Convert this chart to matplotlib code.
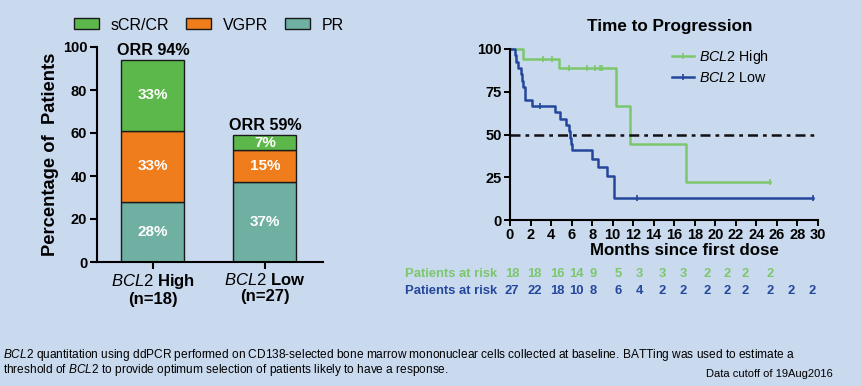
import matplotlib
matplotlib.use("Agg")
import matplotlib.pyplot as plt
import matplotlib.transforms as mtransforms
from matplotlib.patches import Patch
from matplotlib.lines import Line2D

plt.rcParams['font.family'] = ['Liberation Sans', 'DejaVu Sans']
plt.rcParams['mathtext.fontset'] = 'custom'
plt.rcParams['mathtext.it'] = 'Liberation Sans:italic'
plt.rcParams['mathtext.rm'] = 'Liberation Sans'
plt.rcParams['mathtext.bf'] = 'Liberation Sans:bold'

# ---------------- data ----------------
groups = [r"$\it{BCL2}$ High" + "\n(n=18)", r"$\it{BCL2}$ Low" + "\n(n=27)"]
pr = [28, 37]
vgpr = [33, 15]
cr = [33, 7]
orr_labels = ["ORR 94%", "ORR 59%"]

high_t = [0, 1.3, 4.8, 10.3, 11.7, 17.1, 25.3]
high_s = [100, 94.4, 88.9, 66.7, 44.4, 22.2, 22.2]
high_cens_t = [3.2, 4.1, 5.7, 7.5, 8.3, 8.8, 9.0, 25.3]
high_cens_s = [94.4, 94.4, 88.9, 88.9, 88.9, 88.9, 88.9, 22.2]

low_t = [0, 0.5, 0.6, 0.8, 1.1, 1.2, 1.3, 1.45, 2.1, 4.4, 4.9, 5.5, 5.7, 5.8, 5.9, 6.0, 7.95, 8.6, 9.4, 10.15, 29.5]
low_s = [100, 96.3, 92.6, 88.9, 85.2, 81.5, 77.8, 70.4, 66.7, 63.0, 59.3, 55.6, 51.9, 48.1, 44.4, 40.7, 35.8, 30.9, 26.0, 12.9, 12.9]
low_cens_t = [2.9, 12.4, 29.5]
low_cens_s = [66.7, 12.9, 12.9]

risk_high = [18, 18, 16, 14, 9, 5, 3, 3, 3, 2, 2, 2, 2]
risk_low = [27, 22, 18, 10, 8, 6, 4, 2, 2, 2, 2, 2, 2, 2, 2]
risk_pos = [0.2, 2.4, 4.6, 6.5, 8.1, 10.5, 12.6, 14.8, 16.9, 19.2, 21.1, 22.9, 25.3, 27.4, 29.4]

c_cr = '#5cb84a'
c_vgpr = '#ef7d1b'
c_pr = '#6fb0a2'
c_high = '#7cc76c'
c_low = '#24479b'
bg = '#c9d9ee'

W, H = 861, 386
fig = plt.figure(figsize=(W / 100, H / 100), dpi=100, facecolor=bg)

def fx(px):
    return px / W

def fy(py):
    return 1 - py / H

# ---------------- left stacked bar ----------------
ax1 = fig.add_axes([fx(97), fy(262), fx(323 - 97), (262 - 47) / H])
ax1.set_facecolor('none')
x = [0, 1]
bw = 0.5625
ax1.bar(x, pr, bw, color=c_pr, edgecolor='#1a1a1a', linewidth=1.0)
bot2 = [a for a in pr]
ax1.bar(x, vgpr, bw, bottom=bot2, color=c_vgpr, edgecolor='#1a1a1a', linewidth=1.0)
bot3 = [a + b for a, b in zip(pr, vgpr)]
ax1.bar(x, cr, bw, bottom=bot3, color=c_cr, edgecolor='#1a1a1a', linewidth=1.0)
ax1.set_xlim(-0.5, 1.518)
ax1.set_ylim(0, 100)
for i in range(2):
    ax1.text(x[i], pr[i] / 2, f"{pr[i]}%", ha='center', va='center', color='white',
             fontsize=11, fontweight='bold')
    ax1.text(x[i], pr[i] + vgpr[i] / 2, f"{vgpr[i]}%", ha='center', va='center', color='white',
             fontsize=11, fontweight='bold')
    ax1.text(x[i], bot3[i] + cr[i] / 2, f"{cr[i]}%", ha='center', va='center', color='white',
             fontsize=11, fontweight='bold')
    ax1.text(x[i], bot3[i] + cr[i] + 0.8, orr_labels[i], ha='center', va='bottom',
             fontsize=11.6, fontweight='bold', clip_on=False)
ax1.set_xticks(x)
ax1.set_xticklabels(groups, fontsize=12, fontweight='bold', linespacing=1.1)
ax1.set_yticks([0, 20, 40, 60, 80, 100])
ax1.tick_params(axis='y', labelsize=10.5, width=1.5, length=5, pad=2)
for lab in ax1.get_yticklabels():
    lab.set_fontweight('bold')
ax1.tick_params(axis='x', width=1.5, length=5, pad=2)
for s in ['top', 'right']:
    ax1.spines[s].set_visible(False)
for s in ['left', 'bottom']:
    ax1.spines[s].set_linewidth(1.5)
ax1.set_ylabel("Percentage of  Patients", fontsize=13.2, fontweight='bold', labelpad=3)

handles = [Patch(facecolor=c_cr, edgecolor='#1a1a1a', label='sCR/CR'),
           Patch(facecolor=c_vgpr, edgecolor='#1a1a1a', label='VGPR'),
           Patch(facecolor=c_pr, edgecolor='#1a1a1a', label='PR')]
fig.legend(handles=handles, loc='center', bbox_to_anchor=(fx(209), fy(25)), ncol=3,
           frameon=False, fontsize=11.5, handlelength=1.56, handleheight=0.69,
           columnspacing=1.05, handletextpad=0.75, borderpad=0, borderaxespad=0)

# ---------------- right KM plot ----------------
ax2 = fig.add_axes([fx(510), fy(220), fx(818 - 510), (220 - 49) / H])
ax2.set_facecolor('none')
ax2.step(high_t, high_s, where='post', color=c_high, lw=1.8, clip_on=False)
ax2.step(low_t, low_s, where='post', color=c_low, lw=1.8, clip_on=False)
ax2.plot(high_cens_t, high_cens_s, ls='none', marker='|', ms=4, mew=1.2, color=c_high, clip_on=False)
ax2.plot(low_cens_t, low_cens_s, ls='none', marker='|', ms=4, mew=1.2, color=c_low, clip_on=False)
ax2.plot([0, 29.8], [50, 50], color='#111111', lw=1.8, ls=(0, (4, 2, 1.5, 2)))
ax2.set_xlim(0, 30)
ax2.set_ylim(0, 100)
ax2.set_xticks(range(0, 31, 2))
ax2.set_yticks([0, 25, 50, 75, 100])
ax2.tick_params(labelsize=10.5, width=1.4, length=4, pad=2)
for lab in ax2.get_xticklabels() + ax2.get_yticklabels():
    lab.set_fontweight('bold')
for s in ['top', 'right']:
    ax2.spines[s].set_visible(False)
for s in ['left', 'bottom']:
    ax2.spines[s].set_linewidth(1.5)
ax2.set_xlabel("Months since first dose", fontsize=12.2, fontweight='bold', labelpad=0)
ax2.xaxis.set_label_coords((684 - 510) / (818 - 510), -0.135)
ax2.set_title("Time to Progression", fontsize=12.3, fontweight='bold', pad=13,
              x=(670 - 510) / (818 - 510))

lh = [Line2D([0], [0], color=c_high, lw=1.8, marker='|', ms=4, mew=1.2),
      Line2D([0], [0], color=c_low, lw=1.8, marker='|', ms=4, mew=1.2)]
ax2.legend(lh, [r"$\it{BCL2}$ High", r"$\it{BCL2}$ Low"], loc='upper left',
           bbox_to_anchor=((665 - 510) / (818 - 510), 1.045), frameon=False,
           fontsize=10.3, handlelength=1.5, handletextpad=0.4, labelspacing=0.3,
           borderpad=0)

trans = mtransforms.blended_transform_factory(ax2.transData, fig.transFigure)
fig.text(fx(405), fy(274), "Patients at risk", color=c_high, fontsize=9.4, fontweight='bold',
         va='center', ha='left')
fig.text(fx(405), fy(291), "Patients at risk", color=c_low, fontsize=9.4, fontweight='bold',
         va='center', ha='left')
for i, v in enumerate(risk_high):
    fig.text(risk_pos[i], fy(274), str(v), transform=trans, color=c_high, fontsize=9.4,
             fontweight='bold', ha='center', va='center')
for i, v in enumerate(risk_low):
    fig.text(risk_pos[i], fy(291), str(v), transform=trans, color=c_low, fontsize=9.4,
             fontweight='bold', ha='center', va='center')

# ---------------- footnote ----------------
fig.text(fx(3), fy(355), r"$\it{BCL2}$ quantitation using ddPCR performed on CD138-selected bone marrow "
         "mononuclear cells collected at baseline. BATTing was used to estimate a",
         fontsize=8.6, va='center', ha='left')
fig.text(fx(3), fy(370.5), r"threshold of $\it{BCL2}$ to provide optimum selection of patients likely to have a response.",
         fontsize=8.6, va='center', ha='left')
fig.text(fx(833), fy(374), "Data cutoff of 19Aug2016", fontsize=8.0, va='center', ha='right')

fig.savefig("out.png", dpi=100, facecolor=bg)
